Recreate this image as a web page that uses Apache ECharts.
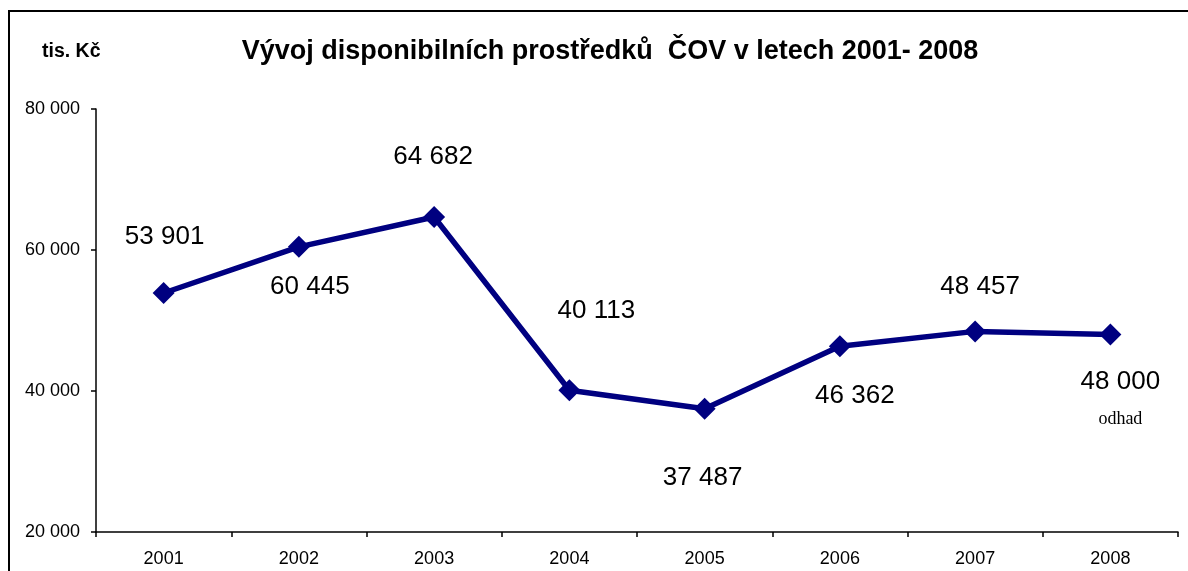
<!DOCTYPE html>
<html>
<head>
<meta charset="utf-8">
<script src="https://cdn.jsdelivr.net/npm/echarts@6/dist/echarts.min.js"></script>
<style>
  html, body { margin: 0; padding: 0; background: #fff; overflow: hidden; }
  #chart { width: 1188px; height: 571px; }
</style>
</head>
<body>
<div id="chart"></div>
<script>
// data
var years = ['2001', '2002', '2003', '2004', '2005', '2006', '2007', '2008'];
var prostredky = [53901, 60445, 64682, 40113, 37487, 46362, 48457, 48000];
var yTicks = [20000, 40000, 60000, 80000];
var noteLast = 'odhad';

// posun popisku od bodu (px)
var labelShift = [[1, -56], [11, 40], [-1, -60], [27, -79], [-2, 69], [15, 50], [5, -45], [10, 66]];

function fmt(v) {
    return String(v).replace(/\B(?=(\d{3})+(?!\d))/g, ' ');
}

var chart = echarts.init(document.getElementById('chart'));

var points = prostredky.map(function (v, i) {
    var item = {
        value: v,
        label: { offset: labelShift[i] }
    };
    if (i == prostredky.length - 1) {
        item.label.formatter = '{a|' + fmt(v) + '}\n{b|' + noteLast + '}';
    }
    return item;
});

var option = {
    animation: false,
    backgroundColor: '#fff',
    title: [
        {
            text: 'Vývoj disponibilních prostředků  ČOV v letech 2001- 2008',
            left: 605,
            top: 33,
            textAlign: 'center',
            textStyle: { fontFamily: 'Liberation Sans, Arial', fontWeight: 'bold', fontSize: 27, color: '#000' }
        },
        {
            text: 'tis. Kč',
            left: 37,
            top: 37,
            textStyle: { fontFamily: 'Liberation Sans, Arial', fontWeight: 'bold', fontSize: 19.5, color: '#000' }
        }
    ],
    graphic: [
        {
            type: 'line',
            shape: { x1: 9, y1: 11, x2: 9, y2: 700 },
            style: { stroke: '#000', lineWidth: 2 },
            silent: true
        },
        {
            type: 'line',
            shape: { x1: 8, y1: 11, x2: 1400, y2: 11 },
            style: { stroke: '#000', lineWidth: 2 },
            silent: true
        }
    ],
    grid: { left: 96, right: 10, top: 109, bottom: 39 },
    xAxis: {
        type: 'category',
        data: years,
        boundaryGap: true,
        axisLine: { lineStyle: { color: '#000', width: 1.5 } },
        axisTick: { show: true, length: 5, lineStyle: { color: '#000', width: 1.5 } },
        axisLabel: { color: '#000', fontSize: 18, fontFamily: 'Liberation Sans, Arial', margin: 18 }
    },
    yAxis: {
        type: 'value',
        min: yTicks[0],
        max: yTicks[yTicks.length - 1],
        interval: 20000,
        splitLine: { show: false },
        axisLine: { show: true, lineStyle: { color: '#000', width: 1.5 } },
        axisTick: { show: true, length: 5, lineStyle: { color: '#000', width: 1.5 } },
        axisLabel: {
            color: '#000', fontSize: 18, fontFamily: 'Liberation Sans, Arial', margin: 16,
            formatter: function (v) { return fmt(v); }
        }
    },
    series: [
        {
            type: 'line',
            data: points,
            symbol: 'diamond',
            symbolSize: 22,
            lineStyle: { color: '#000080', width: 5.5 },
            itemStyle: { color: '#000080' },
            label: {
                show: true,
                position: 'inside',
                color: '#000',
                fontSize: 26,
                fontFamily: 'Liberation Sans, Arial',
                formatter: function (p) { return fmt(p.value); },
                rich: {
                    a: { fontSize: 26, fontFamily: 'Liberation Sans, Arial', color: '#000', lineHeight: 38 },
                    b: { fontSize: 18, fontFamily: 'Liberation Serif, Times New Roman', color: '#000', lineHeight: 38 }
                }
            }
        }
    ]
};

chart.setOption(option);
</script>
</body>
</html>
